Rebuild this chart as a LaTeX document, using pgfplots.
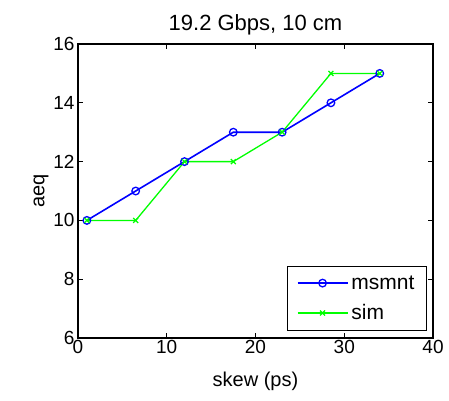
\documentclass[border=0pt]{standalone}
\usepackage{pgfplots}
\pgfplotsset{compat=1.18}
\usepackage{fontspec}
\setmainfont{Liberation Sans}
\begin{document}
\begin{tikzpicture}
\useasboundingbox (-78pt,-62pt) rectangle (371pt,338pt);
\begin{axis}[
  at={(0,0)}, anchor=south west,
  scale only axis, width=355pt, height=294pt,
  xmin=0, xmax=40, ymin=6, ymax=16,
  xtick={0,10,20,30,40}, ytick={6,8,10,12,14,16},
  tick align=inside, tick pos=both,
  major tick length=5pt,
  axis line style={line width=1.4pt},
  every tick/.style={line width=1.2pt, black},
  tick label style={font=\fontsize{19}{22}\selectfont},
  xticklabel style={yshift=1pt},
  /pgf/number format/assume math mode=true,
  title={19.2 Gbps, 10 cm},
  title style={font=\fontsize{22}{26}\selectfont, yshift=-1pt},
  xlabel={skew (ps)}, ylabel={aeq},
  label style={font=\fontsize{20}{24}\selectfont},
  xlabel style={yshift=-11pt},
  ylabel style={yshift=-2pt},
  legend style={at={(0.983,0.024)}, anchor=south east, draw=black, line width=1.2pt,
    font=\fontsize{21}{24}\selectfont, inner xsep=9pt, inner ysep=9pt, row sep=14pt,
    nodes={inner xsep=3pt, inner ysep=0pt}},
  legend cell align=left,
  legend image code/.code={\draw[mark repeat=2,mark phase=2] plot coordinates {(0pt,0pt)(25pt,0pt)(50pt,0pt)};},
]
\addplot[color={rgb,255:red,0;green,0;blue,255}, line width=1.6pt, mark=o, mark size=3.8pt, mark options={line width=1.3pt}]
  coordinates {(1,10)(6.5,11)(12,12)(17.5,13)(23,13)(28.5,14)(34,15)};
\addlegendentry{msmnt}
\addplot[color={rgb,255:red,0;green,255;blue,0}, line width=1.3pt, mark=x, mark size=3.5pt, mark options={line width=1.2pt}]
  coordinates {(1,10)(6.5,10)(12,12)(17.5,12)(23,13)(28.5,15)(34,15)};
\addlegendentry{sim}
\end{axis}
\end{tikzpicture}
\end{document}
